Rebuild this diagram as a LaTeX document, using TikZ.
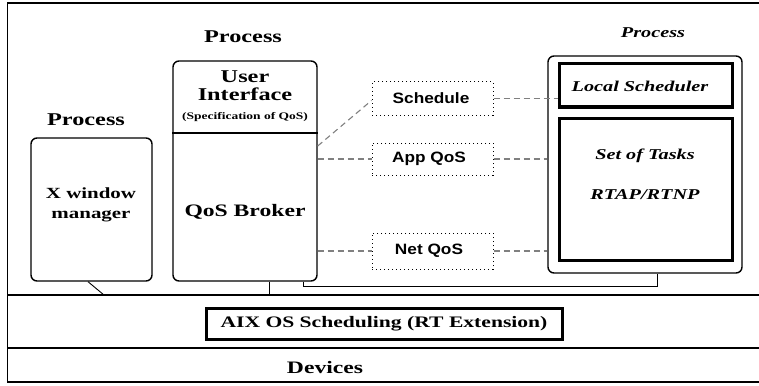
\documentclass[tikz,border=0pt]{standalone}
\usepackage{fontspec}
\newfontfamily\serifwide{Liberation Serif}[FakeStretch=1.35]
\newfontfamily\sanswide{Liberation Sans}[FakeStretch=1.15]
\newcommand{\fsz}[1]{\fontsize{#1}{#1}\selectfont}
\begin{document}
\begin{tikzpicture}[x=1pt,y=-1pt,
  txt/.style={inner sep=0pt, font=\serifwide\bfseries\fsz{17.5}},
  itxt/.style={inner sep=0pt, font=\serifwide\bfseries\itshape\fsz{15}},
  stxt/.style={inner sep=0pt, font=\sanswide\bfseries\fsz{15}},
  procbox/.style={draw, line width=1.4pt, rounded corners=6pt, inner sep=0pt},
  heavybox/.style={draw, line width=3pt, inner sep=0pt},
  msgbox/.style={draw, line width=1pt, dash pattern=on 1pt off 3pt, inner sep=0pt},
  link/.style={draw, line width=0.9pt},
  msglink/.style={draw, gray, line width=1.1pt, dash pattern=on 6pt off 4pt}]
\useasboundingbox (0,0) rectangle (759,385);

% outer frame and the two lower layers
\draw[line width=1.5pt] (7.5,3) rectangle (775,382);
\draw[line width=1.2pt] (7.5,295) -- (775,295);
\draw[line width=1.2pt] (7.5,348) -- (775,348);

% X window manager process
\node[procbox, minimum width=121, minimum height=143] (xw) at (91.5,209.5) {};
\node[txt, font=\serifwide\bfseries\fsz{18}] (xwp) at (86,120) {Process};
\node[txt, font=\serifwide\bfseries\fsz{15.5}] (xw1) at (91,193) {X window};
\node[txt, font=\serifwide\bfseries\fsz{15.5}] (xw2) at (91,216) {manager};

% QoS broker process
\node[procbox, minimum width=144, minimum height=220] (bk) at (245,171) {};
\draw[line width=1.2pt] (bk.west |- 0,133) -- (bk.east |- 0,133);
\node[txt, font=\serifwide\bfseries\fsz{18}] (bkp) at (243,37) {Process};
\node[txt, font=\serifwide\bfseries\fsz{18}] (ui1) at (245,77) {User};
\node[txt, font=\serifwide\bfseries\fsz{18}] (ui2) at (245,94) {Interface};
\node[txt, font=\serifwide\bfseries\fsz{10}] (ui3) at (245,117) {(Specification of QoS)};
\node[txt] (qb) at (245,212) {QoS Broker};

% real-time application process
\node[procbox, minimum width=194, minimum height=217] (rp) at (645,164.5) {};
\node[itxt] (rpp) at (653,33) {Process};
\node[heavybox, minimum width=173, minimum height=43] (ls) at (645.5,85.5) {};
\node[itxt] (lst) at (640,86) {Local Scheduler};
\node[heavybox, minimum width=173, minimum height=142] (ts) at (645.5,189) {};
\node[itxt] (ts1) at (645,156) {Set of Tasks};
\node[itxt] (ts2) at (645,195) {RTAP/RTNP};

% messages between broker and scheduler
\node[msgbox, minimum width=121, minimum height=33] (sc) at (432.5,98.5) {};
\node[stxt] (sct) at (431,98.5) {Schedule};
\node[msgbox, minimum width=121, minimum height=32] (aq) at (432.5,159) {};
\node[stxt] (aqt) at (429,159) {App QoS};
\node[msgbox, minimum width=121, minimum height=36] (nq) at (432.5,251) {};
\node[stxt] (nqt) at (429,251) {Net QoS};

\draw[msglink] ([yshift=25pt]bk.east) -- ([yshift=-2pt]sc.west);
\draw[msglink] (bk.east |- aq.west) -- (aq.west);
\draw[msglink] (bk.east |- nq.west) -- (nq.west);
\draw[msglink] (sc.east) -- (ls.west |- sc.east);
\draw[msglink] (aq.east) -- (rp.west |- aq.east);
\draw[msglink] (nq.east) -- (rp.west |- nq.east);

% kernel scheduling and devices
\node[heavybox, minimum width=356, minimum height=31] (aix) at (384,323.5) {};
\node[txt, font=\serifwide\bfseries\fsz{16}] (aixt) at (384,324) {AIX OS Scheduling (RT Extension)};
\node[txt] (dev) at (325,368) {Devices};

% attachments of the processes to the OS layer
\coordinate (xwo) at (104,295);
\coordinate (bko) at (269,295);
\draw[link] ([xshift=-3.5pt]xw.south) -- (xwo);
\draw[link] (bk.south -| bko) -- (bko);
\draw[link] ([xshift=58pt]bk.south) -- ++(0,5) -| ([xshift=12pt]rp.south);
\end{tikzpicture}
\end{document}
